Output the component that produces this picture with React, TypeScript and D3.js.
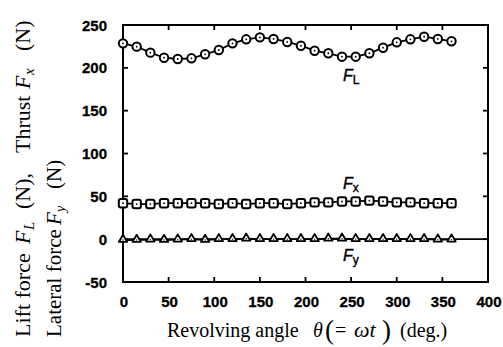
import React from "react";
import * as d3 from "d3";

const angles = [0, 15, 30, 45, 60, 75, 90, 105, 120, 135, 150, 165, 180, 195, 210, 225, 240, 255, 270, 285, 300, 315, 330, 345, 360];
const liftForce = [228.6, 224.7, 217.7, 211.8, 210.3, 211.1, 215.8, 220.8, 228.6, 233.3, 235.6, 233.7, 230.2, 225.8, 220, 217, 213, 213, 217, 223.5, 229.8, 233.3, 236.3, 233.7, 231];
const thrust = [42, 41, 41, 42, 42, 42, 42, 41, 42, 41, 42, 42, 41, 42, 43, 43, 44, 44, 45, 44, 43, 43, 42, 42, 42];
const lateral = [-1, -1, -0.5, -1, -0.5, 0, -1, 0, 0, 0.5, 0, 0, 0, 0, 0, 0.5, 0.5, 0, 0, 0, 0, 0, 0, -0.5, -0.5];
const xTicks = [0, 50, 100, 150, 200, 250, 300, 350, 400];
const yTicks = [-50, 0, 50, 100, 150, 200, 250];

const W = 503, H = 347;
const L = 123, R = 488, T = 25, B = 282;

export default function App() {
  const x = d3.scaleLinear().domain([0, 400]).range([L, R]);
  const y = d3.scaleLinear().domain([-50, 250]).range([B, T]);
  const line = (vals: number[]) =>
    d3.line<number>().x((_, i) => x(angles[i])).y((v) => y(v))(vals) || "";
  const tickLen = 5;
  const sw = 1.8;
  const sans = "'Liberation Sans', Arial, sans-serif";
  const serif = "'Liberation Serif', 'Times New Roman', serif";
  const tri = (cx: number, cy: number) => {
    const s = 4.2;
    return `M${cx},${cy - s}L${cx + s},${cy + s * 0.7}L${cx - s},${cy + s * 0.7}Z`;
  };
  return (
    <svg width={W} height={H} style={{ position: "absolute", left: 0, top: 0, background: "#fff" }}>
      <rect x={0} y={0} width={W} height={H} fill="#fff" />
      {/* frame */}
      <rect x={L} y={T} width={R - L} height={B - T} fill="none" stroke="#000" strokeWidth={2} />
      {/* zero line */}
      <line x1={L} x2={R} y1={y(0)} y2={y(0)} stroke="#000" strokeWidth={sw} />
      {/* x ticks */}
      {xTicks.map((t) => (
        <g key={"xt" + t}>
          <line x1={x(t)} x2={x(t)} y1={B} y2={B - tickLen} stroke="#000" strokeWidth={sw} />
          <line x1={x(t)} x2={x(t)} y1={T} y2={T + tickLen} stroke="#000" strokeWidth={sw} />
          <text x={x(t) + 1} y={307} textAnchor="middle" fontFamily={sans} fontWeight="bold" fontSize={15} stroke="#000" strokeWidth={0.3}>
            {t}
          </text>
        </g>
      ))}
      {/* y ticks */}
      {yTicks.map((t) => (
        <g key={"yt" + t}>
          <line x1={L} x2={L + tickLen} y1={y(t)} y2={y(t)} stroke="#000" strokeWidth={sw} />
          <line x1={R} x2={R - tickLen} y1={y(t)} y2={y(t)} stroke="#000" strokeWidth={sw} />
          <text x={107} y={y(t) + 5.5} textAnchor="end" fontFamily={sans} fontWeight="bold" fontSize={15} stroke="#000" strokeWidth={0.3}>
            {t}
          </text>
        </g>
      ))}
      {/* series lines */}
      <path d={line(liftForce)} fill="none" stroke="#000" strokeWidth={sw} />
      <path d={line(thrust)} fill="none" stroke="#000" strokeWidth={sw} />
      <path d={line(lateral)} fill="none" stroke="#000" strokeWidth={sw} />
      {/* markers */}
      {liftForce.map((v, i) => (
        <g key={"l" + i}>
          <circle cx={x(angles[i])} cy={y(v)} r={4.2} fill="#fff" stroke="#000" strokeWidth={2} />
          <circle cx={x(angles[i])} cy={y(v)} r={0.9} fill="#000" />
        </g>
      ))}
      {thrust.map((v, i) => (
        <g key={"t" + i}>
          <rect x={x(angles[i]) - 4.2} y={y(v) - 4.2} width={8.4} height={8.4} rx={2} fill="#fff" stroke="#000" strokeWidth={2} />
          <circle cx={x(angles[i])} cy={y(v)} r={0.9} fill="#000" />
        </g>
      ))}
      {lateral.map((v, i) => (
        <g key={"y" + i}>
          <path d={tri(x(angles[i]), y(v) - 1)} fill="#fff" stroke="#000" strokeWidth={1.8} strokeLinejoin="round" />
          <circle cx={x(angles[i])} cy={y(v)} r={0.7} fill="#000" />
        </g>
      ))}
      {/* series labels */}
      <text x={343} y={81} fontFamily={sans} fontStyle="italic" fontSize={16} stroke="#000" strokeWidth={0.4}>
        F<tspan fontSize={12} dy={3} fontStyle="normal">L</tspan>
      </text>
      <text x={343} y={189} fontFamily={sans} fontStyle="italic" fontSize={16} stroke="#000" strokeWidth={0.4}>
        F<tspan fontSize={12} dy={3} fontStyle="normal">x</tspan>
      </text>
      <text x={343} y={261} fontFamily={sans} fontStyle="italic" fontSize={16} stroke="#000" strokeWidth={0.4}>
        F<tspan fontSize={12} dy={3} fontStyle="normal">y</tspan>
      </text>
      {/* x axis title */}
      <g fontFamily={serif} fontSize={20}>
        <text x={167} y={337}>Revolving angle</text>
        <text x={313} y={337} fontStyle="italic">θ</text>
        <text x={325} y={339} fontSize={27}>(</text>
        <text x={335} y={337}>=</text>
        <text x={354} y={337} fontStyle="italic" fontSize={22}>ωt</text>
        <text x={382} y={339} fontSize={27}>)</text>
        <text x={400} y={337}>(deg.)</text>
      </g>
      {/* y axis title, line 1 */}
      <g transform="translate(30,337) rotate(-90)" fontFamily={serif} fontSize={22}>
        <text x={0} y={0}>Lift force</text>
        <text x={93} y={0} fontStyle="italic">F</text>
        <text x={107} y={4} fontStyle="italic" fontSize={15}>L</text>
        <text x={128} y={0}>(N),</text>
        <text x={184} y={0}>Thrust</text>
        <text x={248} y={0} fontStyle="italic">F</text>
        <text x={262} y={4} fontStyle="italic" fontSize={15}>x</text>
        <text x={286} y={0}>(N)</text>
      </g>
      {/* y axis title, line 2 */}
      <g transform="translate(61,337) rotate(-90)" fontFamily={serif} fontSize={21}>
        <text x={0} y={0}>Lateral force</text>
        <text x={112} y={0} fontStyle="italic">F</text>
        <text x={125} y={4} fontStyle="italic" fontSize={14}>y</text>
        <text x={148} y={0}>(N)</text>
      </g>
    </svg>
  );
}
